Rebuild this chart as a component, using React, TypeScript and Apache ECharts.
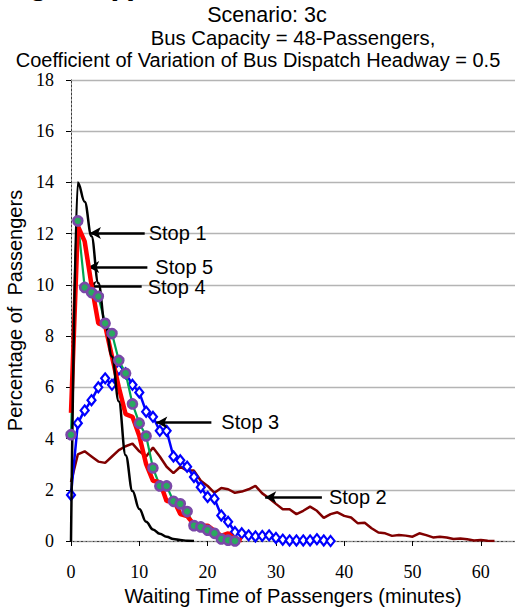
import React, { useEffect, useRef } from "react";
import * as echarts from "echarts";

const titleLines = [
  "Scenario: 3c",
  "Bus Capacity = 48-Passengers,",
  "Coefficient of Variation of Bus Dispatch Headway = 0.5",
];
const xAxisName = "Waiting Time of Passengers (minutes)";
const yAxisName = "Percentage of  Passengers";

// values per minute (index = minute)
const stop1 = [0, 14.0, 13.25, 11.9, 10.07, 8.46, 7.2, 5.45, 3.35, 1.95, 1.25, 0.75, 0.45, 0.28, 0.17, 0.08, 0.04, 0.01, 0.0];
const stop2 = [
  2.3, 3.38, 3.5, 3.3, 3.1, 3.05, 3.3, 3.55, 3.7, 3.8,
  3.5, 3.3, 3.65, 3.3, 2.9, 2.65, 2.9, 2.75, 2.75, 2.35,
  2.15, 1.88, 2.07, 2.02, 1.88, 1.93, 2.02, 2.15, 1.86, 1.67,
  1.45, 1.24, 1.24, 1.05, 1.18, 1.34, 1.18, 0.9, 1.05, 1.12,
  0.98, 0.92, 0.69, 0.71, 0.5, 0.33, 0.3, 0.2, 0.23, 0.21,
  0.17, 0.3, 0.23, 0.14, 0.17, 0.14, 0.08, 0.1, 0.07, 0.02,
  0.04, 0.01, 0.0,
];
const stop3 = [
  1.8, 4.6, 5.1, 5.5, 6.0, 6.35, 6.1, 6.7, 6.55, 6.1,
  5.8, 5.05, 4.85, 4.3, 4.3, 3.3, 3.15, 2.9, 2.5, 2.1,
  1.72, 1.65, 1.0, 0.75, 0.35, 0.3, 0.22, 0.18, 0.2, 0.22,
  0.12, 0.05, 0.02, 0.02, 0.02, 0.02, 0.07, 0.02, 0.0,
];
const stop4 = [
  4.15, 12.5, 9.9, 9.7, 9.55, 8.5, 8.1, 7.05, 6.55, 5.35,
  4.6, 4.1, 2.85, 2.15, 2.15, 1.55, 1.45, 1.15, 0.6, 0.55,
  0.42, 0.3, 0.08, 0.03, 0.0,
];
const stop5 = [
  5.0, 12.3, 11.7, 10.0, 8.5, 8.4, 7.2, 6.0, 4.95, 4.85,
  4.1, 3.0, 2.35, 2.3, 1.55, 1.62, 1.05, 0.97, 0.65, 0.6,
  0.6, 0.4, 0.2, 0.3, 0.08, 0.03,
];

// annotation arrows: label, tail [x, y], tip [x, y] in data units
const annotationLabels = ["Stop 1", "Stop 5", "Stop 4", "Stop 3", "Stop 2"];
const annotationTails = [[10.79, 12.03], [11.18, 10.7], [10.35, 9.93], [20.55, 4.63], [36.73, 1.71]];
const annotationTips = [[2.77, 12.03], [2.52, 10.7], [2.14, 9.93], [12.49, 4.63], [28.43, 1.71]];
const annotationGaps = [4, 8, 6, 10, 7];

const toPairs = (arr: number[]) => arr.map((v, i) => [i, v]);

export default function App() {
  const ref = useRef<HTMLDivElement>(null);
  useEffect(() => {
    if (!ref.current) return;
    const chart = echarts.init(ref.current, undefined, { renderer: "svg" });
    const sans = "Arial, 'Liberation Sans', sans-serif";
    const serif = "'Times New Roman', 'Liberation Serif', serif";

    const markData = annotationLabels.map((name, i) => [
      {
        coord: annotationTails[i],
        symbol: "none",
        label: {
          show: true,
          position: "start",
          formatter: name,
          distance: annotationGaps[i],
          color: "#000",
          fontSize: 20,
          fontFamily: sans,
        },
      },
      { coord: annotationTips[i], symbol: "arrow" },
    ]);

    chart.setOption({
      animation: false,
      backgroundColor: "#fff",
      grid: { left: 71, right: 8, top: 80, bottom: 67, outerBoundsMode: "none", containLabel: false },
      graphic: [
        {
          type: "text",
          left: 0,
          top: -33,
          style: { text: "Figure (f)", font: "bold 32px " + sans, fill: "#000" },
        },
        ...titleLines.map((t, i) => ({
          type: "text",
          x: [267, 293, 258][i],
          y: [15, 38, 60][i],
          style: {
            text: t,
            fill: "#000",
            font: [21.5, 20.3, 20][i] + "px " + sans,
            textAlign: "center",
            textVerticalAlign: "middle",
          },
        })),
      ],
      xAxis: [
        {
          type: "value",
          min: 0,
          max: 65,
          interval: 10,
          name: xAxisName,
          nameLocation: "middle",
          nameGap: 45,
          nameTextStyle: { fontFamily: sans, fontSize: 20, color: "#000" },
          axisLine: { show: true, onZero: false, lineStyle: { color: "#000", width: 1, type: [3, 2] } },
          axisTick: { show: true, length: 5, lineStyle: { color: "#000" } },
          axisLabel: {
            fontFamily: serif,
            fontSize: 18,
            color: "#000",
            margin: 22,
            showMaxLabel: false,
            formatter: (v: number) => (v % 10 === 0 ? String(v) : ""),
          },
          splitLine: { show: false },
        },
        {
          type: "value",
          position: "top",
          min: 0,
          max: 65,
          axisLine: { show: true, lineStyle: { color: "#999", width: 1, type: [2, 2] } },
          axisTick: { show: false },
          axisLabel: { show: false },
          splitLine: { show: false },
        },
      ],
      yAxis: [
        {
          type: "value",
          min: 0,
          max: 18,
          interval: 2,
          name: yAxisName,
          nameLocation: "middle",
          nameGap: 41,
          nameTextStyle: { fontFamily: sans, fontSize: 20, color: "#000" },
          axisLine: { show: true, onZero: false, lineStyle: { color: "#000", width: 1 } },
          axisTick: { show: true, length: 5, lineStyle: { color: "#000" } },
          axisLabel: { fontFamily: serif, fontSize: 18, color: "#000", margin: 17 },
          splitLine: { show: true, lineStyle: { color: "#b4b4b4", width: 1.3 } },
        },
        {
          type: "value",
          position: "right",
          min: 0,
          max: 18,
          axisLine: { show: true, lineStyle: { color: "#999", width: 1, type: [2, 2] } },
          axisTick: { show: false },
          axisLabel: { show: false },
          splitLine: { show: false },
        },
      ],
      series: [
        {
          name: "Stop 2",
          type: "line",
          data: toPairs(stop2),
          showSymbol: false,
          symbol: "none",
          lineStyle: { color: "#800000", width: 2.5 },
          z: 2,
        },
        {
          name: "Stop 3",
          type: "line",
          data: toPairs(stop3),
          symbol: "diamond",
          symbolSize: [8, 10],
          showAllSymbol: true,
          lineStyle: { color: "#0000ff", width: 2.5 },
          itemStyle: { color: "#ffffff", borderColor: "#0000ff", borderWidth: 2.2 },
          z: 3,
        },
        {
          name: "Stop 4",
          type: "line",
          data: toPairs(stop4),
          symbol: "none",
          lineStyle: { color: "#00a651", width: 2.2 },
          z: 4,
        },
        {
          name: "Stop 5",
          type: "line",
          data: toPairs(stop5),
          symbol: "none",
          lineStyle: { color: "#ff0000", width: 4.5 },
          z: 5,
        },
        {
          name: "Stop 1",
          type: "line",
          data: toPairs(stop1),
          symbol: "none",
          smooth: 0.4,
          smoothMonotone: "x",
          lineStyle: { color: "#000000", width: 2.5 },
          z: 6,
        },
        {
          name: "Stop 4 markers",
          type: "scatter",
          data: toPairs(stop4),
          symbol: "circle",
          symbolSize: 9,
          itemStyle: { color: "#2aa860", borderColor: "#7a48a8", borderWidth: 2.6, opacity: 1 },
          z: 7,
        },
        {
          name: "annotations",
          type: "line",
          data: [],
          z: 8,
          markLine: {
            silent: true,
            animation: false,
            symbol: ["none", "arrow"],
            symbolSize: [9, 11],
            lineStyle: { color: "#000", width: 2.5, type: "solid" },
            data: markData,
          },
        },
      ],
    });
    return () => chart.dispose();
  }, []);
  return (
    <div
      ref={ref}
      style={{ position: "fixed", left: 0, top: 0, width: 523, height: 608, background: "#fff" }}
    />
  );
}
